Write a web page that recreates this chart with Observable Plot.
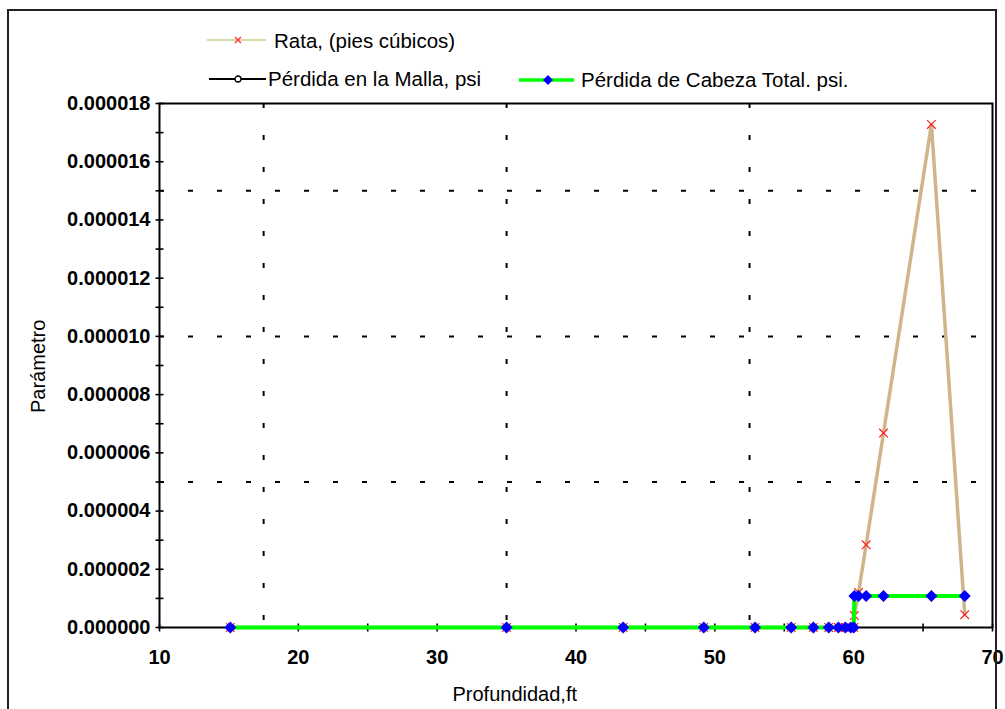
<!DOCTYPE html>
<html>
<head>
<meta charset="utf-8">
<script src="https://cdn.jsdelivr.net/npm/d3@7"></script>
<script src="https://cdn.jsdelivr.net/npm/@observablehq/plot@0.6"></script>
<style>
  html, body { margin: 0; padding: 0; background: #fff; }
  #wrap { position: relative; width: 1005px; height: 709px; overflow: hidden; font-family: "Liberation Sans", Arial, sans-serif; }
  #border { position: absolute; left: 7px; top: 9px; width: 990px; height: 720px; border: 2px solid #222; box-sizing: border-box; pointer-events: none; }
  #chart { position: absolute; left: 0; top: 0; }
  .lg { position: absolute; font-size: 20.5px; color: #000; white-space: nowrap; line-height: 1; }
  .sw { position: absolute; }
  .ttl { position: absolute; font-size: 20px; color: #000; white-space: nowrap; line-height: 1; }
</style>
</head>
<body>
<div id="wrap">
  <div id="chart"></div>
  <div id="border"></div>
</div>
<script>
// ---- data ----
const seriesNames = ["Rata, (pies cúbicos)", "Pérdida en la Malla, psi", "Pérdida de Cabeza Total. psi."];
const depth  = [15.1, 35.0, 43.4, 49.2, 52.9, 55.5, 57.1, 58.2, 58.9, 59.4, 59.8, 60.0, 60.05, 60.35, 60.9, 62.15, 65.6, 68.0];
const rata   = [0, 0, 0, 0, 0, 0, 0, 0, 0, 0, 0, 0, 0.41e-6, 1.2e-6, 2.84e-6, 6.68e-6, 17.28e-6, 0.44e-6];
const malla  = [0, 0, 0, 0, 0, 0, 0, 0, 0, 0, 0, 0, 1.08e-6, 1.08e-6, 1.08e-6, 1.08e-6, 1.08e-6, 1.08e-6];
const cabeza = [0, 0, 0, 0, 0, 0, 0, 0, 0, 0, 0, 0, 1.08e-6, 1.08e-6, 1.08e-6, 1.08e-6, 1.08e-6, 1.08e-6];

const xTickLabels = [10, 20, 30, 40, 50, 60, 70];
const xMinorTicks = [10, 15, 20, 25, 30, 35, 40, 45, 50, 55, 60, 65, 70];
const yTickLabels = [0, 2e-6, 4e-6, 6e-6, 8e-6, 10e-6, 12e-6, 14e-6, 16e-6, 18e-6];
const yMinorTicks = [0, 1e-6, 2e-6, 3e-6, 4e-6, 5e-6, 6e-6, 7e-6, 8e-6, 9e-6, 10e-6, 11e-6, 12e-6, 13e-6, 14e-6, 15e-6, 16e-6, 17e-6, 18e-6];
const xGrid = [17.5, 35, 52.5];
const yGrid = [5e-6, 10e-6, 15e-6];
const xTitle = "Profundidad,ft";
const yTitle = "Parámetro";

const rows = depth.map((d, i) => ({depth: d, rata: rata[i], malla: malla[i], cabeza: cabeza[i]}));

const hTick = {draw(ctx) { ctx.moveTo(-4, 0); ctx.lineTo(4, 0); }};
const vTick = {draw(ctx) { ctx.moveTo(0, -4); ctx.lineTo(0, 4); }};

const chart = Plot.plot({
  width: 1005,
  height: 709,
  marginLeft: 159,
  marginRight: 13,
  marginTop: 103,
  marginBottom: 82,
  x: {domain: [10, 70], label: null},
  y: {domain: [0, 18e-6], label: null},
  style: {fontFamily: "'Liberation Sans', Arial, sans-serif", background: "white", color: "black", overflow: "visible"},
  marks: [
    Plot.ruleY(yGrid, {stroke: "black", strokeWidth: 2, strokeDasharray: "5,24"}),
    Plot.ruleX(xGrid, {stroke: "black", strokeWidth: 2, strokeDasharray: "5,27"}),
    Plot.frame({stroke: "black", strokeWidth: 2}),
    Plot.dot(yMinorTicks, {x: () => 10, y: d => d, symbol: hTick, fill: "none", stroke: "black", strokeWidth: 1.6}),
    Plot.dot(xMinorTicks, {x: d => d, y: () => 0, symbol: vTick, fill: "none", stroke: "black", strokeWidth: 1.6}),
    Plot.axisY({ticks: yTickLabels, tickSize: 0, tickPadding: 9, tickFormat: d => d.toFixed(6), fontSize: 20, fontWeight: "bold", fill: "black", label: null}),
    Plot.axisX({ticks: xTickLabels, tickSize: 0, tickPadding: 22, tickFormat: d => String(d), fontSize: 20, fontWeight: "bold", fill: "black", label: null}),
    // Rata
    Plot.line(rows, {x: "depth", y: "rata", stroke: "#d2b48c", strokeWidth: 3.5}),
    Plot.dot(rows, {x: "depth", y: "rata", symbol: "times", r: 4, stroke: "#ff2020", strokeWidth: 1.2}),
    // Pérdida en la Malla
    Plot.line(rows, {x: "depth", y: "malla", stroke: "black", strokeWidth: 1.5}),
    Plot.dot(rows, {x: "depth", y: "malla", symbol: "circle", r: 3, fill: "none", stroke: "black", strokeWidth: 1.2}),
    // Pérdida de Cabeza Total
    Plot.line(rows, {x: "depth", y: "cabeza", stroke: "#00ff00", strokeWidth: 4}),
    Plot.dot(rows, {x: "depth", y: "cabeza", symbol: "diamond2", r: 5.4, fill: "#0000ff", stroke: "none"})
  ]
});
document.getElementById("chart").appendChild(chart);

// ---- legend (HTML) ----
const wrap = document.getElementById("wrap");
function addSwatch(left, top, svg) {
  const d = document.createElement("div");
  d.className = "sw";
  d.style.left = left + "px"; d.style.top = top + "px";
  d.innerHTML = svg;
  wrap.appendChild(d);
}
function addText(cls, left, top, text) {
  const d = document.createElement("div");
  d.className = cls;
  d.style.left = left + "px"; d.style.top = top + "px";
  d.textContent = text;
  wrap.appendChild(d);
  return d;
}
// row 1: Rata
addSwatch(207, 33, '<svg width="60" height="14"><line x1="0" y1="7" x2="59" y2="7" stroke="#c8cf8e" stroke-width="1.3"/><path d="M28,4L34,10M34,4L28,10" stroke="#ff3030" stroke-width="1.3"/></svg>');
addText("lg", 274, 31, seriesNames[0]);
// row 2: Malla
addSwatch(209, 72, '<svg width="60" height="14"><line x1="0" y1="7" x2="57" y2="7" stroke="#000" stroke-width="2"/><circle cx="29" cy="7" r="3" fill="#fff" stroke="#000" stroke-width="1.3"/></svg>');
addText("lg", 268, 69, seriesNames[1]);
// item 3: Cabeza total
addSwatch(519, 73, '<svg width="60" height="14"><line x1="0" y1="7" x2="55" y2="7" stroke="#00ff00" stroke-width="3.5"/><path d="M29,2L34,7L29,12L24,7Z" fill="#0000ff"/></svg>');
addText("lg", 581, 70, seriesNames[2]);

// axis titles
const xt = addText("ttl", 0, 684, xTitle);
xt.style.left = (515 - xt.offsetWidth / 2) + "px";
const yt = addText("ttl", 0, 0, yTitle);
yt.style.transformOrigin = "0 0";
yt.style.transform = "rotate(-90deg)";
yt.style.left = (38 - yt.offsetHeight / 2) + "px";
yt.style.top = (366 + yt.offsetWidth / 2) + "px";
</script>
</body>
</html>
